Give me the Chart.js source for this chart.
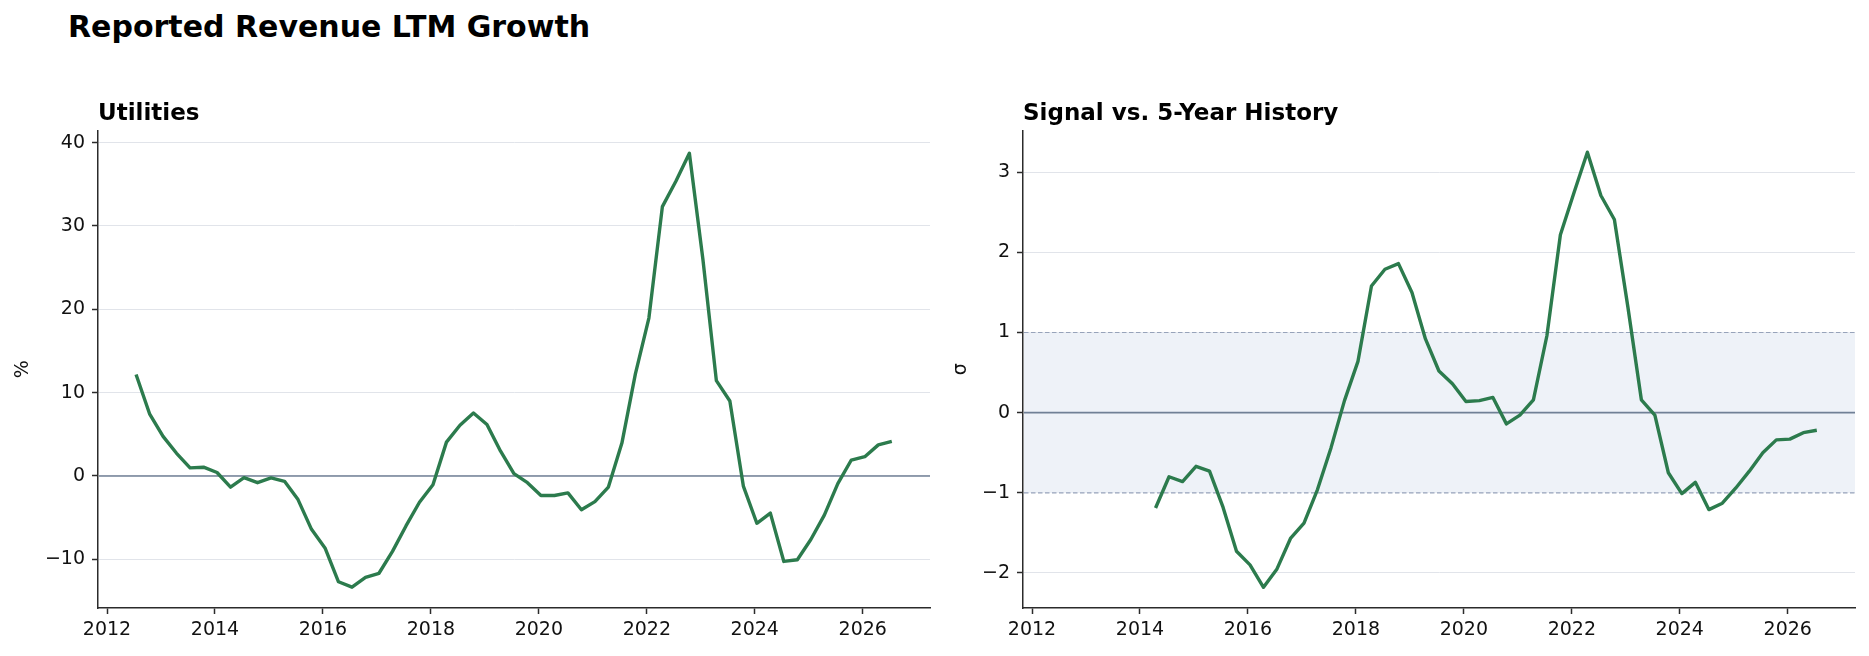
<!DOCTYPE html>
<html><head><meta charset="utf-8">
<script src="https://cdn.jsdelivr.net/npm/chart.js@4.4.1/dist/chart.umd.min.js"></script>
<style>
html,body{margin:0;padding:0;background:#fff;}
#wrap{position:relative;width:1869px;height:656px;overflow:hidden;background:#fff;}
#sup{position:absolute;left:68px;top:12px;font:bold 30px/30px "DejaVu Sans";color:#000;white-space:nowrap;}
canvas{position:absolute;top:0;}
</style></head><body>
<div id="wrap">
<div id="sup">Reported Revenue LTM Growth</div>
<canvas id="c1" width="940" height="656" style="left:0;width:940px;height:656px"></canvas>
<canvas id="c2" width="929" height="656" style="left:940px;width:929px;height:656px"></canvas>
</div>
<script>
// ---- data ----
const quarters = [
  '2012-07','2012-10',
  '2013-01','2013-04','2013-07','2013-10',
  '2014-01','2014-04','2014-07','2014-10',
  '2015-01','2015-04','2015-07','2015-10',
  '2016-01','2016-04','2016-07','2016-10',
  '2017-01','2017-04','2017-07','2017-10',
  '2018-01','2018-04','2018-07','2018-10',
  '2019-01','2019-04','2019-07','2019-10',
  '2020-01','2020-04','2020-07','2020-10',
  '2021-01','2021-04','2021-07','2021-10',
  '2022-01','2022-04','2022-07','2022-10',
  '2023-01','2023-04','2023-07','2023-10',
  '2024-01','2024-04','2024-07','2024-10',
  '2025-01','2025-04','2025-07','2025-10',
  '2026-01','2026-04','2026-07'
];
const ltmGrowth = [
  12.17, 7.46, 4.75, 2.72, 0.97, 1.05, 0.41, -1.34, -0.20, -0.81,
  -0.24, -0.65, -2.84, -6.41, -8.64, -12.70, -13.35, -12.17, -11.68, -9.05,
  -6.00, -3.16, -1.05, 4.06, 6.09, 7.55, 6.17, 3.00, 0.28, -0.81,
  -2.35, -2.35, -2.03, -4.06, -3.08, -1.34, 3.94, 12.25, 18.95, 32.33,
  35.38, 38.74, 26.04, 11.44, 9.00, -1.22, -5.68, -4.46, -10.26, -10.06,
  -7.63, -4.71, -0.93, 1.91, 2.31, 3.73, 4.14
];
const zScore = [
  null, null, null, null, null, null, null,
  -1.19, -0.80, -0.86, -0.67, -0.73, -1.18, -1.73, -1.90, -2.18, -1.95,
  -1.57, -1.38, -0.96, -0.44, 0.15, 0.64, 1.58, 1.79, 1.86, 1.50,
  0.92, 0.52, 0.36, 0.14, 0.15, 0.19, -0.14, -0.03, 0.16, 0.96,
  2.22, 2.74, 3.25, 2.71, 2.41, 1.32, 0.16, -0.03, -0.75, -1.01,
  -0.87, -1.21, -1.13, -0.94, -0.73, -0.50, -0.34, -0.33, -0.25, -0.22
];
const xTickYears = [2012, 2014, 2016, 2018, 2020, 2022, 2024, 2026];
const growthTicks = [-10, 0, 10, 20, 30, 40];
const zTicks = [-2, -1, 0, 1, 2, 3];
const zeroLevel = [0];
const normalBand = [-1, 1];
const titles = ['Utilities', 'Signal vs. 5-Year History'];
const yLabels = ['%', '\u03c3'];

// ---- helpers ----
const FONT = '"DejaVu Sans", "Noto Sans", sans-serif';
function toYear(s) { const [y, m] = s.split('-').map(Number); return y + (m - 1) / 12 + 14 / 365; }
function pts(vals) {
  const out = [];
  quarters.forEach((q, i) => { if (vals[i] !== null && vals[i] !== undefined) out.push({x: toYear(q), y: vals[i]}); });
  return out;
}
function fmt(v) { return v < 0 ? '\u2212' + Math.abs(v) : String(v); }

const refLines = {
  id: 'refLines',
  beforeDatasetsDraw(chart, args, opts) {
    const {ctx, chartArea: a, scales: {y}} = chart;
    ctx.save();
    if (opts.band) {
      const yt = y.getPixelForValue(opts.band[1]);
      const yb = y.getPixelForValue(opts.band[0]);
      ctx.fillStyle = '#eef2f8';
      ctx.fillRect(a.left + 1, yt, a.right - a.left - 1, yb - yt);
      ctx.strokeStyle = '#97a3ba';
      ctx.lineWidth = 1.2;
      ctx.setLineDash([4.5, 2.5]);
      opts.band.forEach(v => {
        const p = y.getPixelForValue(v);
        ctx.beginPath(); ctx.moveTo(a.left + 1, p); ctx.lineTo(a.right, p); ctx.stroke();
      });
      ctx.setLineDash([]);
    }
    (opts.zero || []).forEach(v => {
      const p = y.getPixelForValue(v);
      ctx.strokeStyle = '#708096';
      ctx.lineWidth = 1.6;
      ctx.beginPath(); ctx.moveTo(a.left + 1, p); ctx.lineTo(a.right, p); ctx.stroke();
    });
    ctx.restore();
  }
};

function makeChart(id, vals, yMin, yMax, yTicks, title, yLabel, yWidth, padRight, labelPad, band) {
  return new Chart(document.getElementById(id), {
    type: 'line',
    data: { datasets: [{
      data: pts(vals),
      borderColor: '#2c7b4d',
      borderWidth: 3.4,
      pointRadius: 0,
      pointHoverRadius: 0,
      tension: 0,
      fill: false,
      borderJoinStyle: 'round'
    }]},
    options: {
      responsive: false,
      animation: false,
      devicePixelRatio: 1,
      events: [],
      layout: { padding: { left: 0, right: padRight, top: 100, bottom: 0 } },
      plugins: {
        legend: { display: false },
        tooltip: { enabled: false },
        title: {
          display: true, text: title, align: 'start', fullSize: false,
          color: '#000', font: { family: FONT, size: 23, weight: 'bold' },
          padding: { top: 0, bottom: 3 }
        },
        refLines: { zero: zeroLevel, band: band }
      },
      scales: {
        x: {
          type: 'linear', min: 2011.833, max: 2027.246,
          afterBuildTicks: s => { s.ticks = xTickYears.map(v => ({value: v})); },
          afterFit: s => { s.height = 48; },
          grid: { drawOnChartArea: false, drawTicks: true, tickLength: 6, tickColor: '#2b2b2b', tickWidth: 1.5 },
          border: { display: true, color: '#2b2b2b', width: 1.5 },
          ticks: { autoSkip: false, maxRotation: 0, padding: 5, color: '#111', font: { family: FONT, size: 19 }, callback: v => String(v) }
        },
        y: {
          type: 'linear', min: yMin, max: yMax,
          afterBuildTicks: s => { s.ticks = yTicks.map(v => ({value: v})); },
          afterFit: s => { s.width = yWidth; },
          grid: { color: '#e1e4ea', lineWidth: 1, drawTicks: true, tickLength: 6, tickColor: '#2b2b2b', tickWidth: 1.5 },
          border: { display: true, color: '#2b2b2b', width: 1.5 },
          ticks: { autoSkip: false, padding: 7, color: '#111', font: { family: FONT, size: 19 }, callback: v => fmt(v) },
          title: { display: true, text: yLabel, color: '#111', font: { family: FONT, size: 19 }, padding: { top: labelPad, bottom: 0 } }
        }
      }
    },
    plugins: [refLines]
  });
}

makeChart('c1', ltmGrowth, -15.85, 41.45, growthTicks, titles[0], yLabels[0], 98, 10, 12, null);
makeChart('c2', zScore, -2.438, 3.52, zTicks, titles[1], yLabels[1], 83, 14, 10, normalBand);
</script>
</body></html>
